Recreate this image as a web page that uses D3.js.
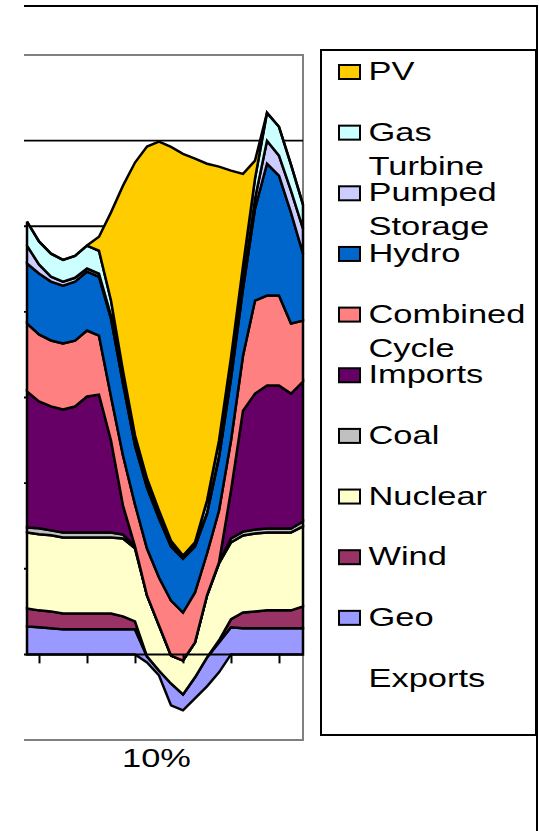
<!DOCTYPE html>
<html>
<head>
<meta charset="utf-8">
<script src="https://cdn.jsdelivr.net/npm/d3@7/dist/d3.min.js"></script>
<style>
  body { margin: 0; background: #fff; }
  svg { display: block; font-family: "Liberation Sans", Arial, sans-serif; }
</style>
</head>
<body>
<script>
// hour of the day (categories)
var hours = [1, 2, 3, 4, 5, 6, 7, 8, 9, 10, 11, 12, 13, 14, 15, 16, 17, 18, 19, 20, 21, 22, 23, 24];
// generation by source, GW
var exportsGW = [0, 0, 0, 0, 0, 0, 0, 0, 0, 0, -0.47, -1.23, -2.98, -3.27, -2.57, -1.87, -1.05, 0, 0, 0, 0, 0, 0, 0];
var geo = [1.63, 1.58, 1.52, 1.46, 1.46, 1.46, 1.46, 1.46, 1.46, 1.46, 0.35, 0.29, 1.28, 0.93, 1.23, 1.69, 1.75, 1.58, 1.52, 1.52, 1.52, 1.52, 1.52, 1.52];
var wind = [1.05, 0.99, 0.99, 0.93, 0.93, 0.93, 0.93, 0.93, 0.76, 0.47, 0, 0, 0, 0, 0, 0, 0.12, 0.47, 0.93, 0.99, 1.05, 1.05, 1.05, 1.28];
var nuclear = [4.44, 4.44, 4.44, 4.44, 4.44, 4.44, 4.44, 4.44, 4.55, 4.26, 3.56, 2.63, 1.63, 1.98, 2.04, 3.62, 4.49, 4.49, 4.49, 4.55, 4.55, 4.55, 4.55, 4.67];
var coal = [0.29, 0.35, 0.29, 0.29, 0.29, 0.29, 0.29, 0.29, 0.23, 0.12, 0, 0, 0, 0, 0, 0, 0.06, 0.23, 0.23, 0.23, 0.23, 0.23, 0.23, 0.29];
var imports = [7.94, 7.41, 7.24, 7.18, 7.35, 7.94, 8.05, 5.37, 1.69, 0, 0, 0, 0, 0, 0, 0, 0, 2.80, 7.06, 7.94, 8.35, 8.35, 7.88, 8.17];
var combinedCycle = [3.97, 3.91, 3.85, 3.85, 3.85, 3.85, 3.44, 2.57, 2.92, 2.45, 2.74, 2.80, 3.21, 2.80, 2.92, 2.45, 3.03, 2.92, 3.21, 5.43, 5.25, 5.25, 4.09, 3.56];
var hydro = [3.50, 3.56, 3.44, 3.38, 3.44, 3.44, 3.44, 4.55, 4.20, 3.44, 3.56, 3.44, 3.15, 3.15, 2.68, 2.33, 3.09, 3.62, 3.91, 5.37, 7.70, 7.00, 6.48, 3.91];
var pumpedStorage = [1.05, 0.53, 0.29, 0.23, 0.23, 0.18, 0.18, 0.18, 0.18, 0.18, 0.18, 0.18, 0.12, 0.06, 0.06, 0.06, 0.12, 0.18, 0.29, 0.58, 1.34, 1.17, 1.28, 1.46];
var gasTurbine = [1.40, 1.34, 1.34, 1.28, 1.28, 1.34, 1.34, 0.88, 0.58, 0.41, 0.35, 0.29, 0.23, 0.12, 0.18, 0.70, 0.88, 1.05, 1.05, 1.17, 1.63, 1.69, 1.52, 1.40];
var pv = [0, 0, 0, 0, 0, 0, 0.82, 5.14, 10.80, 15.93, 19.38, 21.54, 22.99, 23.46, 22.41, 19.67, 15.99, 10.91, 5.37, 1.05, 0, 0, 0, 0];

// stacking order, bottom to top
var seriesNames = ["Exports", "Geo", "Wind", "Nuclear", "Coal", "Imports", "Combined Cycle", "Hydro", "Pumped Storage", "Gas Turbine", "PV"];
var seriesValues = [exportsGW, geo, wind, nuclear, coal, imports, combinedCycle, hydro, pumpedStorage, gasTurbine, pv];
var seriesColors = ["none", "#9999FF", "#993366", "#FFFFCC", "#C0C0C0", "#660066", "#FF8080", "#0066CC", "#CCCCFF", "#CCFFFF", "#FFCC00"];
// legend labels, wrapped like the original
var legendLines = {
  "PV": ["PV"], "Gas Turbine": ["Gas", "Turbine"], "Pumped Storage": ["Pumped", "Storage"],
  "Hydro": ["Hydro"], "Combined Cycle": ["Combined", "Cycle"], "Imports": ["Imports"],
  "Coal": ["Coal"], "Nuclear": ["Nuclear"], "Wind": ["Wind"], "Geo": ["Geo"], "Exports": ["Exports"]
};
var gridValues = [5, 10, 15, 20, 25, 30];
var tickHours = [2, 6, 10, 14, 18, 22];
var axisTitle = "10%";

var svgWidth = 539;
var svgHeight = 831;
// plot area (its left part is cut off in the picture)
var plot = { left: 0, right: 303, top: 55, bottom: 740 };
var cropLeft = 24;
var textStretch = 1.35;

var table = hours.map(function (h, i) {
  var row = { hour: h };
  seriesNames.forEach(function (name, k) { row[name] = seriesValues[k][i]; });
  return row;
});

var svg = d3.select('body')
  .append('svg')
  .attr('width', svgWidth)
  .attr('height', svgHeight);

svg.append('clipPath').attr('id', 'crop')
  .append('rect')
  .attr('x', cropLeft).attr('y', 0)
  .attr('width', svgWidth - cropLeft).attr('height', svgHeight);

var g = svg.append('g').attr('clip-path', 'url(#crop)');

// chart frame
g.append('rect')
  .attr('x', 0).attr('y', 6)
  .attr('width', 537).attr('height', svgHeight)
  .attr('fill', '#fff')
  .attr('stroke', '#000')
  .attr('stroke-width', 2);

var x = d3.scaleLinear()
  .domain([hours[0], hours[hours.length - 1]])
  .range([27, plot.right]);
var y = d3.scaleLinear()
  .domain([-5, 35])
  .range([plot.bottom, plot.top]);

// plot area border
g.append('rect')
  .attr('x', plot.left).attr('y', plot.top)
  .attr('width', plot.right - plot.left).attr('height', plot.bottom - plot.top)
  .attr('fill', '#fff')
  .attr('stroke', '#808080')
  .attr('stroke-width', 2);

// gridlines
g.append('g')
  .selectAll('line')
  .data(gridValues)
  .join('line')
  .attr('x1', plot.left).attr('x2', plot.right)
  .attr('y1', d => y(d)).attr('y2', d => y(d))
  .attr('stroke', '#000')
  .attr('stroke-width', 1.8);

// stacked areas
var stack = d3.stack().keys(seriesNames).offset(d3.stackOffsetNone);
var layers = stack(table);
var area = d3.area()
  .x(d => x(d.data.hour))
  .y0(d => y(d[0]))
  .y1(d => y(d[1]));

g.append('g')
  .selectAll('path')
  .data(layers)
  .join('path')
  .attr('d', area)
  .attr('fill', (d, i) => seriesColors[i])
  .attr('stroke', (d, i) => seriesColors[i] === 'none' ? 'none' : '#000')
  .attr('stroke-width', 2.5)
  .attr('stroke-linejoin', 'miter')
  .attr('stroke-miterlimit', 3);

// category axis on top of the areas
g.append('line')
  .attr('x1', plot.left).attr('x2', plot.right)
  .attr('y1', y(0)).attr('y2', y(0))
  .attr('stroke', '#000')
  .attr('stroke-width', 2);
var xAxis = g.append('g')
  .attr('transform', `translate(0,${y(0)})`)
  .call(d3.axisBottom(x).tickValues(tickHours).tickSize(9).tickFormat(''));
xAxis.select('.domain').remove();
xAxis.selectAll('.tick line').attr('stroke', '#000').attr('stroke-width', 2);

// axis title
svg.append('text')
  .attr('transform', `translate(156.5,767) scale(${textStretch},1)`)
  .attr('text-anchor', 'middle')
  .attr('font-size', 25.5)
  .attr('fill', '#000')
  .text(axisTitle);

// legend
var legend = svg.append('g');
legend.append('rect')
  .attr('x', 321).attr('y', 50)
  .attr('width', 215).attr('height', 685)
  .attr('fill', '#fff')
  .attr('stroke', '#000')
  .attr('stroke-width', 2);

var legendNames = seriesNames.slice().reverse();
var legendY = d3.scaleLinear().domain([0, 1]).range([80, 80 + 60.65]);
var item = legend.selectAll('g.item')
  .data(legendNames)
  .join('g')
  .attr('class', 'item')
  .attr('transform', (d, i) => `translate(0,${legendY(i)})`);

item.filter(d => seriesColors[seriesNames.indexOf(d)] !== 'none')
  .append('rect')
  .attr('x', 339).attr('y', -15)
  .attr('width', 21).attr('height', 14)
  .attr('fill', d => seriesColors[seriesNames.indexOf(d)])
  .attr('stroke', '#000')
  .attr('stroke-width', 2);

item.each(function (d) {
  var sel = d3.select(this);
  legendLines[d].forEach(function (line, j) {
    sel.append('text')
      .attr('transform', `translate(368.5,${j * 34}) scale(${textStretch},1)`)
      .attr('font-size', 25.5)
      .attr('fill', '#000')
      .text(line);
  });
});
</script>
</body>
</html>
